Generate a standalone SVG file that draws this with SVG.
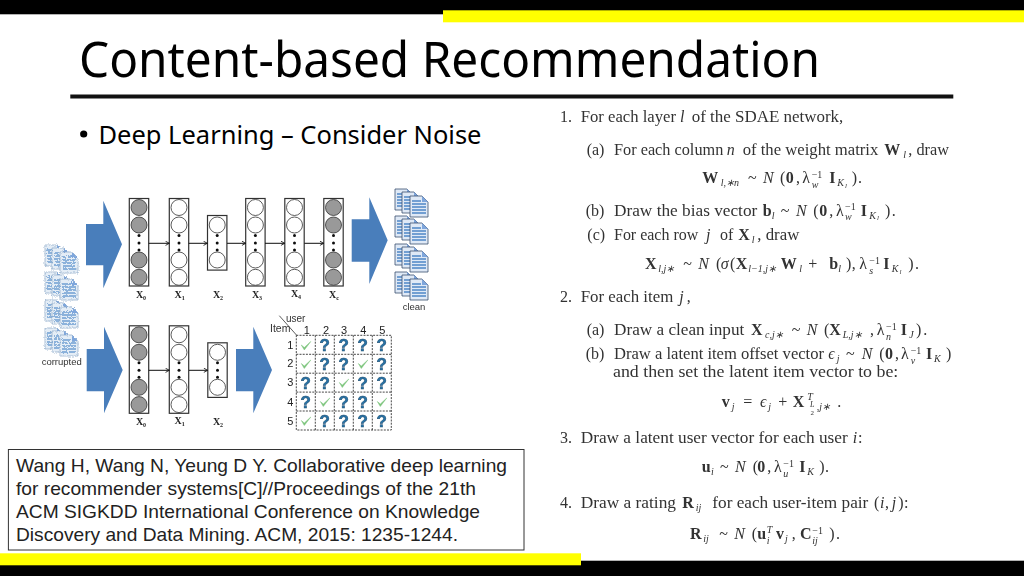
<svg xmlns="http://www.w3.org/2000/svg" width="1024" height="576" viewBox="0 0 1024 576">
<style>
.title{font-family:"Noto Sans",sans-serif;fill:#000}
.cite{font-family:"Liberation Sans",Arial,sans-serif;font-size:19px;fill:#222}
.m{font-family:"Liberation Serif","Times New Roman",serif;font-size:16px;fill:#333}
.i{font-style:italic}.b{font-weight:bold}
.t{font-size:10px}
.lay{fill:#fff;stroke:#333;stroke-width:1.2}
.o{fill:#fff;stroke:#333;stroke-width:.8}
.g{fill:#999;stroke:#333;stroke-width:.8}
.d{fill:#111}
.big{fill:#4a7ebb}
.xl{font-family:"Liberation Serif",serif;font-weight:bold;font-size:10px;fill:#222;text-anchor:middle}
.xl tspan{font-size:6px}
.small{font-family:"Liberation Sans",sans-serif;font-size:9.5px;fill:#333}
.num{font-family:"Liberation Sans",sans-serif;font-size:11px;fill:#222;text-anchor:middle}
.q{font-family:"Liberation Sans",sans-serif;font-weight:bold;font-size:17px;fill:#2773a8;stroke:#1d4a6b;stroke-width:.5;text-anchor:middle}
.conn{fill:none;stroke:#111;stroke-width:1;marker-end:url(#a)}
.grid{fill:none;stroke:#333;stroke-width:.9;stroke-dasharray:2 1.2}
</style>
<defs>
<marker id="a" viewBox="0 0 6 6" refX="5.5" refY="3" markerWidth="5" markerHeight="5" orient="auto" markerUnits="userSpaceOnUse"><path d="M1 .5 5.5 3 1 5.5" fill="none" stroke="#111"/></marker>
<filter id="soft" x="-5%" y="-5%" width="110%" height="110%"><feGaussianBlur stdDeviation=".35"/></filter>
<filter id="noise" x="-10%" y="-10%" width="120%" height="120%" color-interpolation-filters="sRGB"><feTurbulence type="fractalNoise" baseFrequency=".8" numOctaves="2" seed="3"/><feDisplacementMap in="SourceGraphic" scale="3.5" xChannelSelector="R" yChannelSelector="G"/></filter>
<g id="doc"><path d="M0 0H12L18 6V21H0Z" fill="#dfe9f6" stroke="#3b4e70" stroke-width=".8"/><path d="M2 5H11M2 8H16M2 11H16M2 14H16M2 17H16" stroke="#4f86c6" stroke-width="1.7"/><path d="M12 0V6H18Z" fill="#7ea6dc"/></g>
<g id="ndoc"><path d="M0 0H12L18 6V21H0Z" fill="#e4edf6" stroke="#8aa6c6" stroke-width=".7"/><path d="M2 5H11M2 8H16M2 11H16M2 14H16M2 17H16" stroke="#6f9fd2" stroke-width="1.6"/><path d="M12 0V6H18Z" fill="#7ea6dc"/></g>
<g id="stack"><use href="#doc" x="0" y="0"/><use href="#doc" x="7" y="3"/><use href="#doc" x="15" y="7"/></g>
<g id="nstack"><use href="#ndoc" x="0" y="0"/><use href="#ndoc" x="7" y="3"/><use href="#ndoc" x="15" y="7"/></g>
<path id="ck" d="M-4.5 -.5-1.5 4.5 5-4-1.5 2Z" fill="#7cc47c" stroke="#7cc47c" stroke-width=".5"/>
<g id="dots"><circle class="d" cy="-7.5" r="1.5"/><circle class="d" r="1.5"/><circle class="d" cy="7" r="1.5"/></g>
<g id="wide-o"><rect class="lay" x="-9.7" y="-44.5" width="19.4" height="87.5"/><circle class="o" cy="-35.5" r="8"/><circle class="o" cy="-18" r="8"/><use href="#dots"/><circle class="o" cy="17" r="8"/><circle class="o" cy="34.3" r="8"/></g>
<g id="wide-g"><rect class="lay" x="-9.7" y="-44.5" width="19.4" height="87.5"/><circle class="g" cy="-35.5" r="8"/><circle class="g" cy="-18" r="8"/><use href="#dots"/><circle class="g" cy="17" r="8"/><circle class="g" cy="34.3" r="8"/></g>
<g id="narrow"><rect class="lay" x="-9.7" y="-27.5" width="19.4" height="54.6"/><circle class="o" cy="-18" r="8"/><use href="#dots"/><circle class="o" cy="17" r="8"/></g>
</defs>
<rect width="1024" height="576" fill="#fff"/>
<g id="frame">
<rect width="1024" height="14.3" fill="#000"/>
<rect x="443" y="10.3" width="581" height="12" fill="#ff0"/>
<rect y="560.7" width="1024" height="15.3" fill="#000"/>
<rect y="553.3" width="581" height="12" fill="#ff0"/>
<rect x="70.3" y="94.5" width="883" height="4" fill="#111"/>
</g>
<text class="title" x="79" y="77.3" font-size="49" textLength="741" lengthAdjust="spacingAndGlyphs">Content-based Recommendation</text>
<g id="bullet"><circle cx="83.7" cy="134" r="3.6" fill="#000"/><text class="title" x="98.5" y="144" font-size="25" textLength="383" lengthAdjust="spacingAndGlyphs">Deep Learning – Consider Noise</text></g>

<g id="diagram" filter="url(#soft)">
<g id="noisy-docs" filter="url(#noise)"><use href="#nstack" x="45" y="245"/><use href="#nstack" x="45" y="272"/><use href="#nstack" x="45" y="300"/><use href="#nstack" x="45" y="328"/></g>
<text class="small" x="61.7" y="364.5" text-anchor="middle">corrupted</text>
<g id="clean-docs"><use href="#stack" x="395" y="189"/><use href="#stack" x="395" y="216"/><use href="#stack" x="395" y="244"/><use href="#stack" x="395" y="272"/></g>
<text class="small" x="414" y="310" text-anchor="middle">clean</text>
<g id="big-arrows">
<path class="big" d="M86 224H103.3V200.7L122 244.3 103.3 288.3V265.3H86Z"/>
<path class="big" d="M351.7 219.3H369.3V197.3L387.7 240.3 369.3 284V261.7H351.7Z"/>
<path class="big" d="M86.7 349H104V326.7L122.7 370 104 413.3V391.3H86.7Z"/>
<path class="big" d="M236 349H253.3V326.7L272 370 253.3 413.3V391.3H236Z"/>
</g>
<g id="t-x0"><use href="#wide-g" x="139" y="243"/><text class="xl" x="141" y="298">X<tspan dy="2">0</tspan></text></g>
<g id="t-x1"><use href="#wide-o" x="179" y="243"/><text class="xl" x="179.7" y="298">X<tspan dy="2">1</tspan></text></g>
<g id="t-x2"><use href="#narrow" x="217.2" y="243"/><text class="xl" x="218" y="298">X<tspan dy="2">2</tspan></text></g>
<g id="t-x3"><use href="#wide-o" x="255.4" y="243"/><text class="xl" x="257" y="298">X<tspan dy="2">3</tspan></text></g>
<g id="t-x4"><use href="#wide-o" x="294.5" y="243"/><text class="xl" x="296" y="297">X<tspan dy="2">4</tspan></text></g>
<g id="t-xc"><use href="#wide-g" x="333.5" y="243"/><text class="xl" x="334" y="298">X<tspan dy="2">c</tspan></text></g>
<g id="b-x0"><use href="#wide-g" x="139" y="370.3"/><text class="xl" x="141" y="425">X<tspan dy="2">0</tspan></text></g>
<g id="b-x1"><use href="#wide-o" x="179" y="370.3"/><text class="xl" x="179.7" y="424">X<tspan dy="2">1</tspan></text></g>
<g id="b-x2"><use href="#narrow" x="217.5" y="370.3"/><text class="xl" x="218" y="425">X<tspan dy="2">2</tspan></text></g>
<g id="connectors">
<path class="conn" d="M148.7 243.3H169.3"/><path class="conn" d="M188.7 243.3H207.3"/><path class="conn" d="M227 243.3H245.7"/><path class="conn" d="M265 243.3H284.7"/><path class="conn" d="M304.3 243.3H323.7"/>
<path class="conn" d="M148.7 370.3H169.3"/><path class="conn" d="M189 370.3H207.6"/>
</g>
<g id="matrix">
<path d="M279.3 315.7 296.7 335.3" stroke="#333" stroke-width=".8"/>
<text class="small" x="286" y="321.5" style="font-size:10px">user</text>
<text class="small" x="270" y="331.7" style="font-size:10.5px">Item</text>
<text class="num" x="306.7" y="333.5">1</text><text class="num" x="326" y="333.5">2</text><text class="num" x="344" y="333.5">3</text><text class="num" x="363.3" y="333.5">4</text><text class="num" x="382.3" y="333.5">5</text>
<text class="num" x="290.3" y="349">1</text><text class="num" x="290.3" y="367">2</text><text class="num" x="290.3" y="386">3</text><text class="num" x="290.3" y="405.5">4</text><text class="num" x="290.3" y="425">5</text>
<path class="grid" d="M296.3 335.3H391.3V430H296.3ZM296.3 354.3H391.3M296.3 373.2H391.3M296.3 392.1H391.3M296.3 411H391.3M315.3 335.3V430M334.3 335.3V430M353.3 335.3V430M372.3 335.3V430"/>
<use href="#ck" x="305.8" y="345.5"/><text class="q" x="324.8" y="351">?</text><text class="q" x="343.8" y="351">?</text><text class="q" x="362.8" y="351">?</text><text class="q" x="381.8" y="351">?</text>
<use href="#ck" x="305.8" y="364"/><text class="q" x="324.8" y="370">?</text><text class="q" x="343.8" y="370">?</text><use href="#ck" x="362.8" y="364"/><text class="q" x="381.8" y="370">?</text>
<text class="q" x="305.8" y="388.5">?</text><text class="q" x="324.8" y="388.5">?</text><use href="#ck" x="343.8" y="383"/><text class="q" x="362.8" y="388.5">?</text><text class="q" x="381.8" y="388.5">?</text>
<text class="q" x="305.8" y="407.5">?</text><use href="#ck" x="324.8" y="402"/><text class="q" x="343.8" y="407.5">?</text><text class="q" x="362.8" y="407.5">?</text><use href="#ck" x="381.8" y="402"/>
<use href="#ck" x="305.8" y="421"/><text class="q" x="324.8" y="426.5">?</text><text class="q" x="343.8" y="426.5">?</text><text class="q" x="362.8" y="426.5">?</text><text class="q" x="381.8" y="426.5">?</text>
</g>
</g>

<g id="citation">
<rect x="8.4" y="449.5" width="515.6" height="100.5" fill="#fff" stroke="#333" stroke-width="1"/>
<text class="cite" x="16" y="471.7" textLength="491" lengthAdjust="spacingAndGlyphs">Wang H, Wang N, Yeung D Y. Collaborative deep learning</text>
<text class="cite" x="16" y="495" textLength="460" lengthAdjust="spacingAndGlyphs">for recommender systems[C]//Proceedings of the 21th</text>
<text class="cite" x="16" y="517.7" textLength="464" lengthAdjust="spacingAndGlyphs">ACM SIGKDD International Conference on Knowledge</text>
<text class="cite" x="16" y="540.7" textLength="442" lengthAdjust="spacingAndGlyphs">Discovery and Data Mining. ACM, 2015: 1235-1244.</text>
</g>

<g id="math" filter="url(#soft)">
<text class="m" y="121.7"><tspan x="560">1.</tspan><tspan x="580.7" textLength="95.3" lengthAdjust="spacingAndGlyphs">For each layer</tspan><tspan class="i" x="680">l</tspan><tspan x="691.7" textLength="151.6" lengthAdjust="spacingAndGlyphs">of the SDAE network,</tspan></text>
<text class="m" y="155"><tspan x="586.7">(a)</tspan><tspan x="614" textLength="109.3" lengthAdjust="spacingAndGlyphs">For each column</tspan><tspan class="i" x="726.7">n</tspan><tspan x="742.7" textLength="135.6" lengthAdjust="spacingAndGlyphs">of the weight matrix</tspan><tspan class="b" x="884.3">W</tspan><tspan class="i t" x="903.3" y="158">l</tspan><tspan x="908.3" y="155" textLength="40.7" lengthAdjust="spacingAndGlyphs">, draw</tspan></text>
<text class="m" y="183.3"><tspan class="b" x="702.3">W</tspan><tspan class="i t" x="720.7" y="186.3">l,∗n</tspan><tspan x="748" y="183.3">~</tspan><tspan class="i" x="763">N</tspan><tspan x="780">(</tspan><tspan class="b" x="785.7">0</tspan><tspan x="796">,</tspan><tspan x="802.3">λ</tspan><tspan class="t" x="811.7" y="178">−1</tspan><tspan class="i t" x="811.7" y="188">w</tspan><tspan class="b" x="829.3" y="183.3">I</tspan><tspan class="i t" x="837.3" y="186.3">K</tspan><tspan class="i" font-size="7" x="845" y="188">l</tspan><tspan x="851.7" y="183.3">)</tspan><tspan x="858">.</tspan></text>
<text class="m" y="215.7"><tspan x="585.7">(b)</tspan><tspan x="614" textLength="143.3" lengthAdjust="spacingAndGlyphs">Draw the bias vector</tspan><tspan class="b" x="762.7">b</tspan><tspan class="i t" x="771.7" y="218.7">l</tspan><tspan x="780.7" y="215.7">~</tspan><tspan class="i" x="796">N</tspan><tspan x="813.3">(</tspan><tspan class="b" x="819.3">0</tspan><tspan x="829.3">,</tspan><tspan x="836">λ</tspan><tspan class="t" x="845" y="210.4">−1</tspan><tspan class="i t" x="845" y="220.4">w</tspan><tspan class="b" x="860.7" y="215.7">I</tspan><tspan class="i t" x="869.3" y="218.7">K</tspan><tspan class="i" font-size="7" x="877" y="220.4">l</tspan><tspan x="885" y="215.7">)</tspan><tspan x="891.7">.</tspan></text>
<text class="m" y="240.3"><tspan x="587.3">(c)</tspan><tspan x="614" textLength="84.3" lengthAdjust="spacingAndGlyphs">For each row</tspan><tspan class="i" x="706">j</tspan><tspan x="720">of</tspan><tspan class="b" x="738.3">X</tspan><tspan class="i t" x="751.7" y="243.3">l</tspan><tspan x="757.3" y="240.3" textLength="42" lengthAdjust="spacingAndGlyphs">, draw</tspan></text>
<text class="m" y="269"><tspan class="b" x="645">X</tspan><tspan class="i t" x="658.3" y="272">l,j∗</tspan><tspan x="683.3" y="269">~</tspan><tspan class="i" x="698.3">N</tspan><tspan x="716">(</tspan><tspan class="i" x="720.7">σ</tspan><tspan x="730">(</tspan><tspan class="b" x="735.7">X</tspan><tspan class="i t" x="748.3" y="272">l−1,j∗</tspan><tspan class="b" x="780.7" y="269">W</tspan><tspan class="i t" x="799.3" y="272">l</tspan><tspan x="808.3" y="269">+</tspan><tspan class="b" x="829.3">b</tspan><tspan class="i t" x="838.3" y="272">l</tspan><tspan x="846" y="269">)</tspan><tspan x="851.7">,</tspan><tspan x="859.3">λ</tspan><tspan class="t" x="869.3" y="263.7">−1</tspan><tspan class="i t" x="869.3" y="273.7">s</tspan><tspan class="b" x="883.3" y="269">I</tspan><tspan class="i t" x="891.7" y="272">K</tspan><tspan class="i" font-size="7" x="899.5" y="273.7">l</tspan><tspan x="908.3" y="269">)</tspan><tspan x="915">.</tspan></text>
<text class="m" y="302.3"><tspan x="560">2.</tspan><tspan x="580.7" textLength="92.6" lengthAdjust="spacingAndGlyphs">For each item</tspan><tspan class="i" x="679.3">j</tspan><tspan x="686.7">,</tspan></text>
<text class="m" y="335"><tspan x="586.7">(a)</tspan><tspan x="614" textLength="130.3" lengthAdjust="spacingAndGlyphs">Draw a clean input</tspan><tspan class="b" x="751">X</tspan><tspan class="i t" x="765" y="338">c,j∗</tspan><tspan x="791.7" y="335">~</tspan><tspan class="i" x="806.7">N</tspan><tspan x="824">(</tspan><tspan class="b" x="829.3">X</tspan><tspan class="i t" x="842.7" y="338">L,j∗</tspan><tspan x="870" y="335">,</tspan><tspan x="876.7">λ</tspan><tspan class="t" x="886" y="329.7">−1</tspan><tspan class="i t" x="886" y="339.7">n</tspan><tspan class="b" x="900.7" y="335">I</tspan><tspan class="i t" x="909.3" y="338">J</tspan><tspan x="916" y="335">)</tspan><tspan x="923.3">.</tspan></text>
<text class="m" y="359.3"><tspan x="585.7">(b)</tspan><tspan x="614" textLength="210" lengthAdjust="spacingAndGlyphs">Draw a latent item offset vector</tspan><tspan class="i" x="828.3">ϵ</tspan><tspan class="i t" x="836.7" y="362.3">j</tspan><tspan x="846" y="359.3">~</tspan><tspan class="i" x="861.7">N</tspan><tspan x="879.3">(</tspan><tspan class="b" x="885">0</tspan><tspan x="895">,</tspan><tspan x="901">λ</tspan><tspan class="t" x="910.7" y="354">−1</tspan><tspan class="i t" x="910.7" y="364">v</tspan><tspan class="b" x="926" y="359.3">I</tspan><tspan class="i t" x="934" y="362.3">K</tspan><tspan x="946" y="359.3">)</tspan></text>
<text class="m" x="613" y="376.7" textLength="285.3" lengthAdjust="spacingAndGlyphs">and then set the latent item vector to be:</text>
<text class="m" y="406.7"><tspan class="b" x="721.7">v</tspan><tspan class="i t" x="731.7" y="409.7">j</tspan><tspan x="743.3" y="406.7">=</tspan><tspan class="i" x="760">ϵ</tspan><tspan class="i t" x="768.3" y="409.7">j</tspan><tspan x="778.3" y="406.7">+</tspan><tspan class="b" x="792.7">X</tspan><tspan class="i t" x="807.3" y="400">T</tspan><tspan class="i" font-size="8" x="810" y="407">L</tspan><tspan font-size="7" x="810.5" y="415">2</tspan><tspan class="i t" x="816.7" y="410">,j∗</tspan><tspan x="837.3" y="406.7">.</tspan></text>
<text class="m" y="442.7"><tspan x="560">3.</tspan><tspan x="580.7" textLength="267" lengthAdjust="spacingAndGlyphs">Draw a latent user vector for each user</tspan><tspan class="i" x="852.7">i</tspan><tspan x="858">:</tspan></text>
<text class="m" y="472"><tspan class="b" x="701.7">u</tspan><tspan class="i t" x="711" y="475">i</tspan><tspan x="720" y="472">~</tspan><tspan class="i" x="735">N</tspan><tspan x="752.7">(</tspan><tspan class="b" x="757.3">0</tspan><tspan x="767.3">,</tspan><tspan x="774">λ</tspan><tspan class="t" x="783.3" y="466.7">−1</tspan><tspan class="i t" x="783.3" y="476.7">u</tspan><tspan class="b" x="799.3" y="472">I</tspan><tspan class="i t" x="807.3" y="475">K</tspan><tspan x="819.3" y="472">)</tspan><tspan x="825">.</tspan></text>
<text class="m" y="508"><tspan x="560">4.</tspan><tspan x="580.7" textLength="95.3" lengthAdjust="spacingAndGlyphs">Draw a rating</tspan><tspan class="b" x="682.3">R</tspan><tspan class="i t" x="695.7" y="511">ij</tspan><tspan x="712.3" y="508" textLength="156" lengthAdjust="spacingAndGlyphs">for each user-item pair</tspan><tspan x="874">(</tspan><tspan class="i" x="880">i</tspan><tspan x="885">,</tspan><tspan class="i" x="891.7">j</tspan><tspan x="898.3">)</tspan><tspan x="904">:</tspan></text>
<text class="m" y="539.3"><tspan class="b" x="690">R</tspan><tspan class="i t" x="703.3" y="542.3">ij</tspan><tspan x="719.3" y="539.3">~</tspan><tspan class="i" x="734.3">N</tspan><tspan x="751.7">(</tspan><tspan class="b" x="757.3">u</tspan><tspan class="i t" x="766.7" y="533">T</tspan><tspan class="i t" x="766.7" y="544">i</tspan><tspan class="b" x="776" y="539.3">v</tspan><tspan class="i t" x="785" y="542.3">j</tspan><tspan x="791.7" y="539.3">,</tspan><tspan class="b" x="800">C</tspan><tspan class="t" x="812.3" y="534">−1</tspan><tspan class="i t" x="812.3" y="544">ij</tspan><tspan x="829.3" y="539.3">)</tspan><tspan x="836">.</tspan></text>
</g>
</svg>
